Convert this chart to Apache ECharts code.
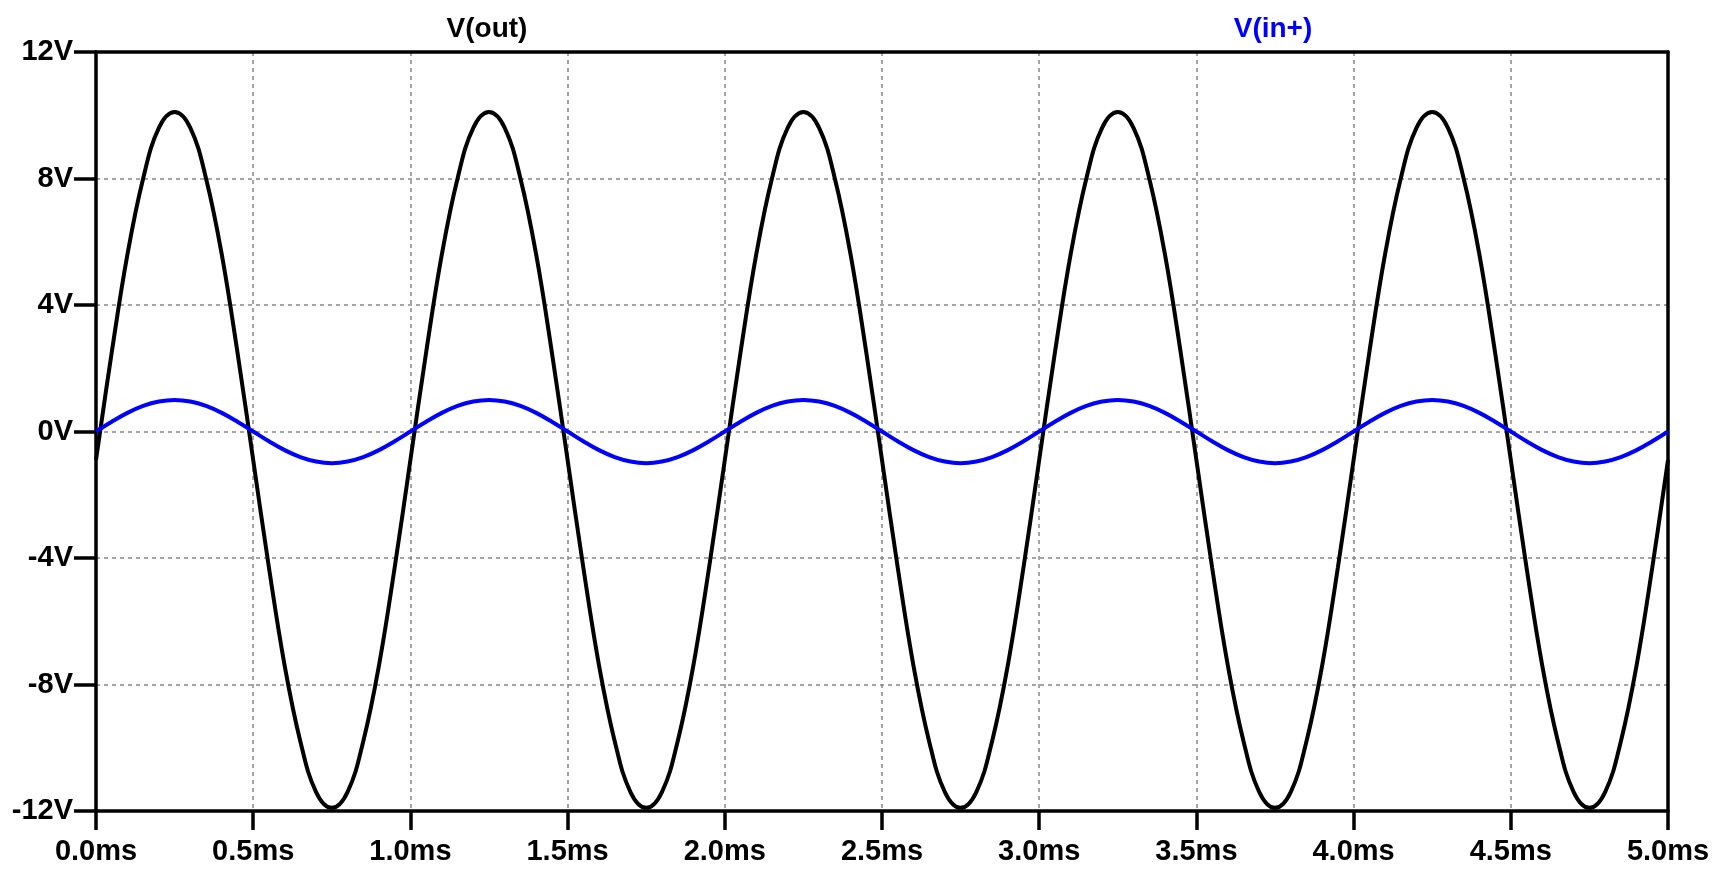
<!DOCTYPE html>
<html>
<head>
<meta charset="utf-8">
<script src="https://cdn.jsdelivr.net/npm/echarts@6/dist/echarts.min.js"></script>
<style>
html,body{margin:0;padding:0;background:#fff;}
#chart{width:1715px;height:869px;}
</style>
</head>
<body>
<div id="chart"></div>
<script>
// time samples (ms)
var timeMs = [
0.00,0.05,0.10,0.15,0.20,0.25,0.30,0.35,0.40,0.45,0.50,0.55,0.60,0.65,0.70,0.75,0.80,0.85,0.90,0.95,
1.00,1.05,1.10,1.15,1.20,1.25,1.30,1.35,1.40,1.45,1.50,1.55,1.60,1.65,1.70,1.75,1.80,1.85,1.90,1.95,
2.00,2.05,2.10,2.15,2.20,2.25,2.30,2.35,2.40,2.45,2.50,2.55,2.60,2.65,2.70,2.75,2.80,2.85,2.90,2.95,
3.00,3.05,3.10,3.15,3.20,3.25,3.30,3.35,3.40,3.45,3.50,3.55,3.60,3.65,3.70,3.75,3.80,3.85,3.90,3.95,
4.00,4.05,4.10,4.15,4.20,4.25,4.30,4.35,4.40,4.45,4.50,4.55,4.60,4.65,4.70,4.75,4.80,4.85,4.90,4.95,
5.00];
// V(out) in volts
var vOut = [
-0.9,2.5,5.6,8.0,9.6,10.1,9.6,8.0,5.6,2.5,-0.9,-4.3,-7.4,-9.8,-11.4,-11.9,-11.4,-9.8,-7.4,-4.3,
-0.9,2.5,5.6,8.0,9.6,10.1,9.6,8.0,5.6,2.5,-0.9,-4.3,-7.4,-9.8,-11.4,-11.9,-11.4,-9.8,-7.4,-4.3,
-0.9,2.5,5.6,8.0,9.6,10.1,9.6,8.0,5.6,2.5,-0.9,-4.3,-7.4,-9.8,-11.4,-11.9,-11.4,-9.8,-7.4,-4.3,
-0.9,2.5,5.6,8.0,9.6,10.1,9.6,8.0,5.6,2.5,-0.9,-4.3,-7.4,-9.8,-11.4,-11.9,-11.4,-9.8,-7.4,-4.3,
-0.9,2.5,5.6,8.0,9.6,10.1,9.6,8.0,5.6,2.5,-0.9,-4.3,-7.4,-9.8,-11.4,-11.9,-11.4,-9.8,-7.4,-4.3,
-0.9];
// V(in+) in volts
var vIn = [
0,0.31,0.59,0.81,0.95,1.0,0.95,0.81,0.59,0.31,0,-0.31,-0.59,-0.81,-0.95,-1.0,-0.95,-0.81,-0.59,-0.31,
0,0.31,0.59,0.81,0.95,1.0,0.95,0.81,0.59,0.31,0,-0.31,-0.59,-0.81,-0.95,-1.0,-0.95,-0.81,-0.59,-0.31,
0,0.31,0.59,0.81,0.95,1.0,0.95,0.81,0.59,0.31,0,-0.31,-0.59,-0.81,-0.95,-1.0,-0.95,-0.81,-0.59,-0.31,
0,0.31,0.59,0.81,0.95,1.0,0.95,0.81,0.59,0.31,0,-0.31,-0.59,-0.81,-0.95,-1.0,-0.95,-0.81,-0.59,-0.31,
0,0.31,0.59,0.81,0.95,1.0,0.95,0.81,0.59,0.31,0,-0.31,-0.59,-0.81,-0.95,-1.0,-0.95,-0.81,-0.59,-0.31,
0];
var seriesNames = ['V(out)', 'V(in+)'];

var outData = timeMs.map(function (t, i) { return [t, vOut[i]]; });
var inData = timeMs.map(function (t, i) { return [t, vIn[i]]; });

var font = 'Liberation Sans, Arial, sans-serif';
var gridLine = { show: true, lineStyle: { color: '#888', width: 1.5, type: [4, 4] } };
var chart = echarts.init(document.getElementById('chart'));
chart.setOption({
  animation: false,
  backgroundColor: '#fff',
  grid: { left: 96, right: 47, top: 52, bottom: 58, containLabel: false },
  graphic: [
    { type: 'text', x: 487, y: 29, style: { text: seriesNames[0], fill: '#000', font: 'bold 28px ' + font, textAlign: 'center', textVerticalAlign: 'middle' } },
    { type: 'text', x: 1273, y: 29, style: { text: seriesNames[1], fill: '#0000ff', font: 'bold 28px ' + font, textAlign: 'center', textVerticalAlign: 'middle' } }
  ],
  xAxis: [{
    type: 'value', min: 0, max: 5, interval: 0.5, position: 'bottom',
    axisLine: { show: true, onZero: false, lineStyle: { color: '#000', width: 3.5 } },
    axisTick: { show: true, inside: false, length: 19, lineStyle: { color: '#000', width: 3.5 } },
    axisLabel: { color: '#000', fontFamily: font, fontWeight: 'bold', fontSize: 29, margin: 26,
      formatter: function (v) { return v.toFixed(1) + 'ms'; } },
    splitLine: gridLine
  }, {
    type: 'value', min: 0, max: 5, interval: 0.5, position: 'top',
    axisLine: { show: true, onZero: false, lineStyle: { color: '#000', width: 3.5 } },
    axisTick: { show: false }, axisLabel: { show: false }, splitLine: { show: false }
  }],
  yAxis: [{
    type: 'value', min: -12, max: 12, interval: 4, position: 'left',
    axisLine: { show: true, onZero: false, lineStyle: { color: '#000', width: 3.5 } },
    axisTick: { show: true, inside: false, length: 22, lineStyle: { color: '#000', width: 3.5 } },
    axisLabel: { color: '#000', fontFamily: font, fontWeight: 'bold', fontSize: 29, margin: 23,
      formatter: function (v) { return v + 'V'; } },
    splitLine: gridLine
  }, {
    type: 'value', min: -12, max: 12, interval: 4, position: 'right',
    axisLine: { show: true, onZero: false, lineStyle: { color: '#000', width: 3.5 } },
    axisTick: { show: false }, axisLabel: { show: false }, splitLine: { show: false }
  }],
  series: [
    { name: seriesNames[0], type: 'line', data: outData, smooth: 0.4, showSymbol: false, symbol: 'none',
      lineStyle: { color: '#000', width: 4 }, z: 3 },
    { name: seriesNames[1], type: 'line', data: inData, smooth: 0.4, showSymbol: false, symbol: 'none',
      lineStyle: { color: '#0000ff', width: 4 }, z: 4 }
  ]
});
</script>
</body>
</html>
